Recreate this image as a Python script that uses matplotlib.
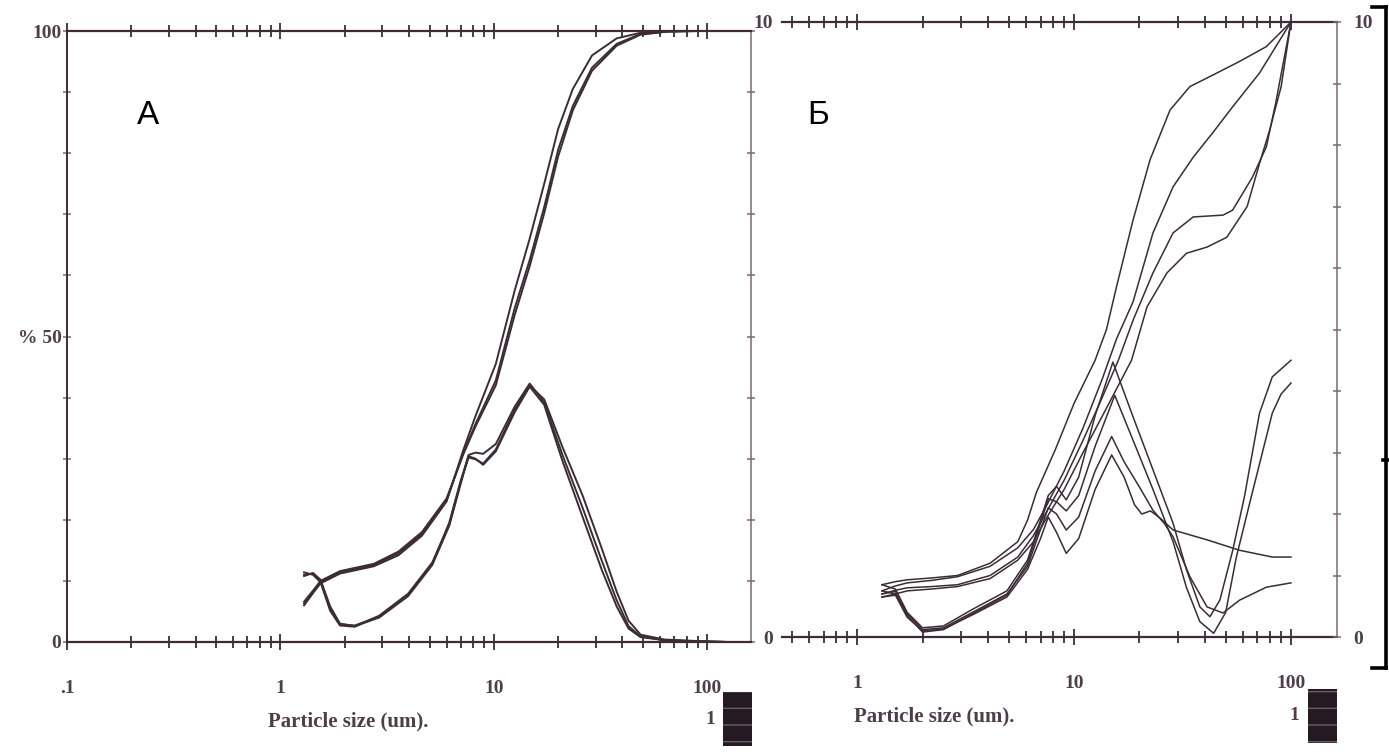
import matplotlib
matplotlib.use("Agg")
import matplotlib.pyplot as plt
from matplotlib.patches import Rectangle
from matplotlib.lines import Line2D
from matplotlib.ticker import NullFormatter

# ---- panel A: three repeat runs, frequency (%) and cumulative (%) ----
a_freq_x = [1.29, 1.42, 1.54, 1.71, 1.9, 2.23, 2.9, 3.96, 5.14, 6.17, 7.0, 7.6, 8.2, 8.9,
            10.2, 12.5, 14.7, 17.2, 21, 26, 32, 37.6, 42.7, 48.6, 63, 91, 125]
a_freq_1 = [11.4, 11.0, 9.8, 5.1, 2.7, 2.5, 4.3, 7.9, 13, 19.2, 26.3, 30.2, 29.9, 29.2,
            31.5, 38, 42, 39.7, 31.8, 24, 15.3, 8.2, 3.5, 1.2, 0.4, 0.15, 0]
a_freq_2 = [10.8, 11.3, 10.2, 5.8, 3.0, 2.6, 4.0, 7.5, 12.6, 19.0, 26.0, 30.6, 31.0, 30.8,
            32.4, 38.5, 42.3, 39.2, 30.5, 22, 13.3, 6.8, 2.6, 0.9, 0.3, 0.1, 0]
a_freq_3 = [11.0, 11.2, 10.0, 5.4, 2.9, 2.7, 4.2, 7.7, 12.8, 19.5, 26.5, 30.4, 30.0, 29.0,
            31.2, 37.6, 41.8, 38.8, 29.5, 20.5, 11.8, 5.8, 2.2, 0.8, 0.3, 0.1, 0]

a_cum_x = [1.29, 1.42, 1.54, 1.9, 2.74, 3.57, 4.6, 6.0, 7.2, 8.2, 10.2, 12.5, 14.7, 17.2,
           20, 23.4, 28.8, 37.6, 48.6, 65, 90, 125]
a_cum_1 = [6.3, 8.2, 9.8, 11.4, 12.6, 14.5, 17.7, 23.2, 31, 35.7, 42.8, 54.6, 62.5, 71.2,
           80.6, 87.7, 94, 97.9, 99.5, 99.9, 100, 100]
a_cum_2 = [6.0, 8.0, 9.6, 11.2, 12.4, 14.2, 17.4, 23.0, 31.5, 37.0, 45.5, 57.5, 66, 75,
           84, 90.5, 96, 98.8, 99.7, 100, 100, 100]
a_cum_3 = [6.6, 8.4, 10.0, 11.6, 12.8, 14.8, 18.0, 23.5, 30.8, 35.3, 42.0, 53.5, 61.5, 70.2,
           79.5, 87.0, 93.5, 97.6, 99.4, 99.9, 100, 100]

# ---- panel B: four samples, cumulative curves ----
b_cum1_x = [1.3, 1.5, 1.7, 2.2, 2.9, 4.1, 5.5, 6.1, 6.7, 8.2, 10, 12.5, 14.1, 15.7, 18.7,
            22.4, 27.7, 34.2, 45.5, 58, 77, 100]
b_cum1_y = [8.5, 9.0, 9.3, 9.6, 10.0, 12.0, 15.5, 19.0, 23.5, 30.5, 38, 45, 50, 57, 67.8,
            77.6, 85.7, 89.5, 91.7, 93.6, 96, 100]
b_cum2_x = [1.3, 1.5, 1.7, 2.2, 2.9, 4.1, 5.5, 6.5, 7.5, 9, 11, 13.5, 15.7, 18.7, 23.1,
            28.6, 35.4, 43.6, 53.8, 71.6, 100]
b_cum2_y = [7.5, 8.3, 8.8, 9.2, 9.8, 11.5, 14.5, 17.5, 21.5, 27, 34, 42, 48.5, 54.5, 65.7,
            73.2, 78, 82, 86.2, 91.7, 100]
b_cum3_x = [1.3, 1.5, 1.7, 2.2, 2.9, 4.1, 5.5, 6.5, 7.5, 9, 11, 13.5, 16, 18.7, 23.1,
            28.6, 35.4, 48.6, 53.8, 66.5, 77, 85, 100]
b_cum3_y = [7.0, 7.6, 8.0, 8.2, 8.5, 10.0, 13.0, 16.5, 20.5, 25.5, 32, 39, 45, 51.5, 59.2,
            65.7, 68.3, 68.6, 69.4, 74.8, 79.7, 86.8, 100]
b_cum4_x = [1.3, 1.5, 1.7, 2.2, 2.9, 4.1, 5.5, 6.5, 7.5, 9, 11, 14, 18.4, 21.7, 26.8,
            33, 41, 50.6, 62.8, 71.6, 79.7, 90.1, 100]
b_cum4_y = [6.5, 7.0, 7.5, 7.8, 8.2, 9.5, 12.5, 15.5, 19.5, 24, 30, 37, 45, 53.7, 59.2,
            62.4, 63.4, 65, 70, 77, 82.4, 89.5, 100]

# ---- panel B: frequency curves ----
b_frq1_x = [1.3, 1.5, 1.7, 2.0, 2.5, 3.4, 4.9, 6.1, 7.0, 7.6, 8.3, 9.2, 10.5, 12.5, 15.1,
            18.7, 23.1, 28.6, 33, 38, 42.3, 47, 53.8, 61, 71.6, 82, 100]
b_frq1_y = [8.5, 7.8, 4.0, 1.5, 1.8, 4.5, 7.5, 12.5, 19, 23, 24.5, 22.3, 26, 36, 44.7,
            35.8, 27.2, 18.5, 10.9, 4.9, 3.3, 6, 14, 22.8, 36.4, 42.3, 45]
b_frq2_x = [1.3, 1.5, 1.7, 2.0, 2.5, 3.4, 4.9, 6.1, 7.0, 7.6, 8.3, 9.2, 10.5, 12.5, 15.4,
            18.7, 23.1, 28.6, 33, 38, 44, 50, 56, 65.6, 82, 90, 100]
b_frq2_y = [7.0, 7.4, 3.5, 0.8, 1.2, 3.8, 6.8, 12, 18.5, 22.5, 22, 20.5, 23, 31, 39.3,
            32, 24, 15.5, 8, 2.5, 0.6, 4, 13, 22.8, 36.4, 39.5, 41.3]
b_frq3_x = [1.3, 1.5, 1.7, 2.0, 2.5, 3.4, 4.9, 6.1, 7.0, 7.6, 8.3, 9.2, 10.5, 12.5, 14.9,
            17, 20, 23.1, 26, 28.6, 34.2, 41, 48.6, 58, 77, 100]
b_frq3_y = [7.5, 7.0, 3.8, 1.2, 1.5, 4.0, 7.0, 11.5, 17.5, 21, 20, 17.4, 19.5, 27, 32.6,
            28.5, 24.4, 20.6, 18.5, 16.3, 9.8, 4.9, 3.9, 6, 8.1, 8.8]
b_frq4_x = [1.3, 1.5, 1.7, 2.0, 2.5, 3.4, 4.9, 6.1, 7.0, 7.6, 8.3, 9.2, 10.5, 12.5, 14.9,
            17, 19, 20.5, 22.5, 25, 28.6, 41, 58, 82, 100]
b_frq4_y = [6.5, 6.8, 3.2, 1.0, 1.3, 3.6, 6.5, 11, 16, 19.5, 17, 13.6, 16, 24, 29.6,
            26, 21.5, 20, 20.5, 19.3, 17.4, 15.8, 14.1, 13, 13]

a_xticks = [0.1, 1, 10, 100]
a_xlabels = [".1", "1", "10", "100"]
b_xticks = [1, 10, 100]
b_xlabels = ["1", "10", "100"]
y_ticks = list(range(0, 101, 10))
a_ylabels = ["0", "", "", "", "", "% 50", "", "", "", "", "100"]
b_ylabels = ["0", "", "", "", "", "", "", "", "", "", "10"]

INK = "#3b2c36"
PALE = "#7a6a75"
TXT = "#4e3e49"
lbl = dict(fontfamily="Liberation Serif", fontweight="bold", fontsize=14, color=TXT)

W, H = 1389, 756
def fx(p):
    return p / W
def fy(p):
    return 1 - p / H

fig = plt.figure(figsize=(W / 100, H / 100), dpi=100)


def log_frame(ax, xlim, ticks, labels):
    ax.set_xscale("log")
    ax.set_xlim(*xlim)
    ax.set_ylim(0, 100)
    minors = [m * 10.0 ** e for e in range(-1, 3) for m in range(2, 10)
              if xlim[0] <= m * 10.0 ** e <= xlim[1]]
    ax.set_xticks(ticks, labels, **lbl)
    ax.set_xticks(minors, minor=True)
    ax.xaxis.set_minor_formatter(NullFormatter())
    ax.tick_params(axis="x", which="both", direction="inout", top=True, bottom=True,
                   color=INK, width=1.3)
    ax.tick_params(axis="x", which="major", length=11, pad=22)
    ax.tick_params(axis="x", which="minor", length=9)
    for s in ("top", "bottom"):
        ax.spines[s].set_color(INK)
        ax.spines[s].set_linewidth(1.6)
    ax.set_facecolor("none")


# panel A
axA = fig.add_axes([fx(67), fy(642), fx(751) - fx(67), fy(31) - fy(642)])
log_frame(axA, (0.1, 160), a_xticks, a_xlabels)
axA.set_yticks(y_ticks, a_ylabels, **lbl)
axA.tick_params(axis="y", direction="inout", left=True, right=True, length=6,
                width=1.1, color=PALE, pad=1)
axA.spines["left"].set_color(INK)
axA.spines["left"].set_linewidth(1.4)
axA.spines["right"].set_color(PALE)
axA.spines["right"].set_linewidth(1.1)
for y in (a_freq_1, a_freq_2, a_freq_3):
    axA.plot(a_freq_x, y, color=INK, lw=1.4)
for y in (a_cum_1, a_cum_2, a_cum_3):
    axA.plot(a_cum_x, y, color=INK, lw=1.4)

# panel B: labels on both sides, tick marks only on the right
axB = fig.add_axes([fx(782), fy(637), fx(1337) - fx(782), fy(22) - fy(637)])
log_frame(axB, (0.45, 163), b_xticks, b_xlabels)
axB.set_yticks(y_ticks, b_ylabels, **lbl)
axB.spines["left"].set_visible(False)
axB.spines["right"].set_visible(False)
axBr = axB.twinx()
axB.tick_params(axis="y", left=False, labelleft=True, right=False, pad=3)
axBr.set_ylim(0, 100)
axBr.set_yticks(y_ticks, b_ylabels, **lbl)
axBr.tick_params(axis="y", direction="inout", length=6, width=1.1, color=PALE, pad=9)
for s in ("top", "bottom", "left"):
    axBr.spines[s].set_visible(False)
axBr.spines["right"].set_color(PALE)
axBr.spines["right"].set_linewidth(1.1)

for x, y in ((b_cum1_x, b_cum1_y), (b_cum2_x, b_cum2_y),
             (b_cum3_x, b_cum3_y), (b_cum4_x, b_cum4_y),
             (b_frq1_x, b_frq1_y), (b_frq2_x, b_frq2_y),
             (b_frq3_x, b_frq3_y), (b_frq4_x, b_frq4_y)):
    axB.plot(x, y, color=INK, lw=1.1)

# panel letters
fig.text(fx(148), fy(116), "A", fontfamily="Liberation Sans", fontsize=24,
         ha="center", va="center", color="black")
fig.text(fx(818), fy(116), "Б", fontfamily="Liberation Sans", fontsize=24,
         ha="center", va="center", color="black")

# axis captions
fig.text(fx(268), fy(721), "Particle size (um).", ha="left", va="center",
         **{**lbl, "fontsize": 15})
fig.text(fx(854), fy(716), "Particle size (um).", ha="left", va="center",
         **{**lbl, "fontsize": 15})

# run keys in the lower right corners
for right, top, num_x in ((752, 692, 710), (1337, 689, 1294)):
    fig.patches.append(Rectangle((fx(right - 29), fy(top + 54)), fx(29), 54 / H,
                                 transform=fig.transFigure, facecolor="#241a21",
                                 edgecolor="#6e5d69", hatch="-", lw=0))
    fig.text(fx(num_x), fy(top + 27), "1", ha="center", va="center", **lbl)

# bracket on the right edge
br = dict(color="black", lw=2.6, transform=fig.transFigure)
fig.lines.append(Line2D([fx(1386), fx(1386)], [fy(7), fy(668)], **br))
fig.lines.append(Line2D([fx(1372), fx(1386)], [fy(7), fy(7)], **br))
fig.lines.append(Line2D([fx(1372), fx(1386)], [fy(668), fy(668)], **br))
fig.lines.append(Line2D([fx(1383), fx(1389)], [fy(460), fy(460)], **br))

fig.savefig("out.png", dpi=100)
